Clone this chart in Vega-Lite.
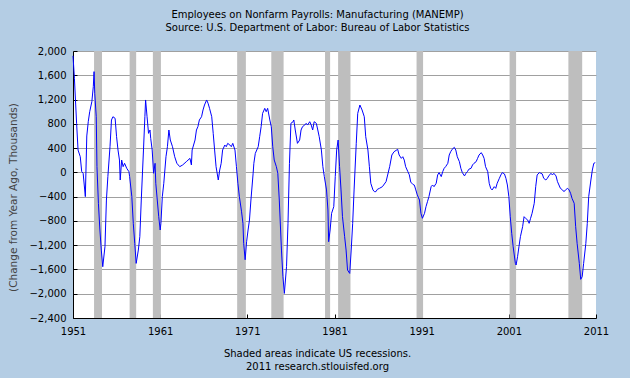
{
"$schema": "https://vega.github.io/schema/vega-lite/v6.json",
"width": 523, "height": 267,
"autosize": {"type": "none"},
"padding": {"left": 73, "top": 51, "right": 34, "bottom": 60},
"background": "#b4cde4",
"config": {"view": {"fill": "white", "stroke": null}, "font": "DejaVu Sans"},
"title": {"text": ["Employees on Nonfarm Payrolls: Manufacturing (MANEMP)", "Source: U.S. Department of Labor: Bureau of Labor Statistics"], "fontSize": 10, "fontWeight": "normal", "font": "DejaVu Sans", "color": "#000", "lineHeight": 13, "dx": -17, "offset": 13, "anchor": "middle", "frame": "group"},
"datasets": {
"recessions": [
{"start":"1953-06-01","end":"1954-05-01"},{"start":"1957-07-01","end":"1958-04-01"},{"start":"1960-03-01","end":"1961-02-01"},{"start":"1969-11-01","end":"1970-11-01"},{"start":"1973-10-01","end":"1975-03-01"},{"start":"1979-12-01","end":"1980-07-01"},{"start":"1981-06-01","end":"1982-11-01"},{"start":"1990-06-01","end":"1991-03-01"},{"start":"2001-02-01","end":"2001-11-01"},{"start":"2007-11-01","end":"2009-06-01"}],
"payroll": [
{"date":"1951-01","change":1920},{"date":"1951-03","change":1550},{"date":"1951-06","change":808},{"date":"1951-08","change":368},{"date":"1951-11","change":258},{"date":"1952-01","change":12},{"date":"1952-03","change":-15},{"date":"1952-06","change":-400},{"date":"1952-08","change":600},{"date":"1952-10","change":835},{"date":"1952-12","change":1000},
{"date":"1953-03","change":1165},{"date":"1953-05","change":1412},{"date":"1953-06","change":1660},{"date":"1953-07","change":1303},{"date":"1953-09","change":917},{"date":"1953-10","change":94},{"date":"1953-12","change":-510},{"date":"1954-02","change":-950},{"date":"1954-04","change":-1280},{"date":"1954-06","change":-1555},{"date":"1954-09","change":-1225},{"date":"1954-11","change":-456},
{"date":"1955-01","change":-70},{"date":"1955-04","change":423},{"date":"1955-06","change":863},{"date":"1955-08","change":917},{"date":"1955-11","change":890},{"date":"1956-01","change":588},{"date":"1956-03","change":368},{"date":"1956-05","change":203},{"date":"1956-06","change":-126},{"date":"1956-08","change":203},{"date":"1956-10","change":94},{"date":"1956-12","change":149},
{"date":"1957-03","change":67},{"date":"1957-06","change":12},{"date":"1957-07","change":-70},{"date":"1957-10","change":-400},{"date":"1957-12","change":-840},{"date":"1958-02","change":-1170},{"date":"1958-04","change":-1500},{"date":"1958-07","change":-1280},{"date":"1958-09","change":-1060},{"date":"1958-11","change":-456},
{"date":"1959-02","change":368},{"date":"1959-04","change":917},{"date":"1959-05","change":1193},{"date":"1959-07","change":917},{"date":"1959-09","change":643},{"date":"1959-11","change":698},{"date":"1959-12","change":560},{"date":"1960-02","change":368},{"date":"1960-04","change":-15},{"date":"1960-06","change":149},{"date":"1960-07","change":-180},{"date":"1960-09","change":-456},{"date":"1960-11","change":-730},
{"date":"1961-01","change":-950},{"date":"1961-02","change":-840},{"date":"1961-04","change":-400},{"date":"1961-06","change":-180},{"date":"1961-09","change":258},{"date":"1961-11","change":423},{"date":"1962-01","change":698},{"date":"1962-03","change":533},{"date":"1962-06","change":423},{"date":"1962-09","change":258},{"date":"1962-12","change":149},
{"date":"1963-04","change":94},{"date":"1963-08","change":122},{"date":"1964-01","change":176},{"date":"1964-06","change":231},{"date":"1964-08","change":122},{"date":"1964-09","change":368},{"date":"1965-01","change":533},{"date":"1965-03","change":698},{"date":"1965-05","change":753},{"date":"1965-07","change":863},{"date":"1965-10","change":917},{"date":"1965-12","change":1028},
{"date":"1966-02","change":1110},{"date":"1966-05","change":1193},{"date":"1966-07","change":1138},{"date":"1966-09","change":1055},{"date":"1966-12","change":917},{"date":"1967-02","change":643},{"date":"1967-04","change":368},{"date":"1967-06","change":94},{"date":"1967-09","change":-126},{"date":"1967-11","change":39},
{"date":"1968-01","change":149},{"date":"1968-03","change":368},{"date":"1968-06","change":450},{"date":"1968-08","change":423},{"date":"1968-10","change":478},{"date":"1969-01","change":450},{"date":"1969-03","change":423},{"date":"1969-05","change":478},{"date":"1969-08","change":368},{"date":"1969-10","change":94},{"date":"1969-12","change":-180},
{"date":"1970-02","change":-400},{"date":"1970-05","change":-640},{"date":"1970-07","change":-840},{"date":"1970-08","change":-1170},{"date":"1970-10","change":-1440},{"date":"1970-12","change":-1143},{"date":"1971-02","change":-950},{"date":"1971-04","change":-785},{"date":"1971-06","change":-456},{"date":"1971-09","change":-15},{"date":"1971-10","change":149},{"date":"1971-12","change":313},
{"date":"1972-04","change":423},{"date":"1972-06","change":588},{"date":"1972-08","change":753},{"date":"1972-10","change":972},{"date":"1973-01","change":1055},{"date":"1973-03","change":1000},{"date":"1973-05","change":1055},{"date":"1973-08","change":863},{"date":"1973-10","change":753},{"date":"1973-12","change":423},
{"date":"1974-02","change":203},{"date":"1974-05","change":94},{"date":"1974-07","change":-15},{"date":"1974-09","change":-456},{"date":"1974-12","change":-1280},{"date":"1975-02","change":-1720},{"date":"1975-04","change":-1995},{"date":"1975-07","change":-1555},{"date":"1975-09","change":-840},{"date":"1975-11","change":149},
{"date":"1976-01","change":808},{"date":"1976-04","change":835},{"date":"1976-05","change":863},{"date":"1976-07","change":698},{"date":"1976-10","change":478},{"date":"1977-01","change":533},{"date":"1977-03","change":698},{"date":"1977-05","change":753},{"date":"1977-08","change":780},{"date":"1977-10","change":808},{"date":"1977-12","change":780},
{"date":"1978-03","change":835},{"date":"1978-05","change":780},{"date":"1978-07","change":698},{"date":"1978-09","change":835},{"date":"1978-12","change":808},{"date":"1979-02","change":698},{"date":"1979-04","change":588},{"date":"1979-07","change":368},{"date":"1979-09","change":94},{"date":"1979-11","change":-70},
{"date":"1980-02","change":-290},{"date":"1980-04","change":-620},{"date":"1980-05","change":-1143},{"date":"1980-07","change":-950},{"date":"1980-09","change":-675},{"date":"1980-12","change":-565},{"date":"1981-02","change":-70},{"date":"1981-04","change":368},{"date":"1981-06","change":533},{"date":"1981-08","change":94},{"date":"1981-10","change":-290},{"date":"1981-12","change":-730},
{"date":"1982-03","change":-1060},{"date":"1982-05","change":-1280},{"date":"1982-07","change":-1610},{"date":"1982-10","change":-1665},{"date":"1982-12","change":-1280},{"date":"1983-02","change":-840},{"date":"1983-04","change":-290},{"date":"1983-07","change":478},{"date":"1983-09","change":972},{"date":"1983-12","change":1110},
{"date":"1984-03","change":1028},{"date":"1984-06","change":917},{"date":"1984-08","change":588},{"date":"1984-11","change":368},{"date":"1985-01","change":94},{"date":"1985-03","change":-180},{"date":"1985-06","change":-290},{"date":"1985-08","change":-318},{"date":"1985-10","change":-318},{"date":"1985-12","change":-280},
{"date":"1986-03","change":-263},{"date":"1986-07","change":-236},{"date":"1986-12","change":-153},{"date":"1987-05","change":94},{"date":"1987-08","change":286},{"date":"1987-11","change":340},{"date":"1988-04","change":380},{"date":"1988-06","change":286},{"date":"1988-09","change":231},{"date":"1988-11","change":258},
{"date":"1989-01","change":203},{"date":"1989-03","change":94},{"date":"1989-06","change":12},{"date":"1989-08","change":-40},{"date":"1989-10","change":-160},{"date":"1990-01","change":-200},{"date":"1990-03","change":-210},{"date":"1990-05","change":-290},{"date":"1990-07","change":-370},{"date":"1990-10","change":-456},{"date":"1990-12","change":-675},
{"date":"1991-02","change":-757},{"date":"1991-05","change":-675},{"date":"1991-07","change":-565},{"date":"1991-09","change":-483},{"date":"1991-11","change":-400},{"date":"1992-02","change":-236},{"date":"1992-04","change":-208},{"date":"1992-06","change":-236},{"date":"1992-09","change":-180},{"date":"1992-11","change":-43},
{"date":"1993-01","change":-4},{"date":"1993-04","change":-70},{"date":"1993-06","change":12},{"date":"1993-08","change":67},{"date":"1993-10","change":94},{"date":"1994-01","change":149},{"date":"1994-03","change":286},{"date":"1994-05","change":340},{"date":"1994-07","change":380},{"date":"1994-10","change":412},{"date":"1994-12","change":368},
{"date":"1995-02","change":258},{"date":"1995-05","change":176},{"date":"1995-07","change":67},{"date":"1995-09","change":-4},{"date":"1995-12","change":-59},{"date":"1996-02","change":-15},{"date":"1996-04","change":12},{"date":"1996-06","change":52},{"date":"1996-09","change":67},{"date":"1996-11","change":122},
{"date":"1997-01","change":149},{"date":"1997-04","change":176},{"date":"1997-06","change":231},{"date":"1997-08","change":286},{"date":"1997-11","change":325},{"date":"1998-01","change":286},{"date":"1998-03","change":231},{"date":"1998-05","change":94},{"date":"1998-08","change":12},{"date":"1998-10","change":-180},{"date":"1998-12","change":-263},
{"date":"1999-02","change":-290},{"date":"1999-05","change":-236},{"date":"1999-07","change":-263},{"date":"1999-09","change":-180},{"date":"1999-12","change":-98},{"date":"2000-02","change":-43},{"date":"2000-04","change":-4},{"date":"2000-07","change":-26},{"date":"2000-09","change":-98},{"date":"2000-11","change":-208},
{"date":"2001-01","change":-400},{"date":"2001-03","change":-730},{"date":"2001-05","change":-1005},{"date":"2001-07","change":-1225},{"date":"2001-10","change":-1500},{"date":"2001-11","change":-1527},{"date":"2002-01","change":-1390},{"date":"2002-03","change":-1225},{"date":"2002-05","change":-1060},{"date":"2002-08","change":-895},{"date":"2002-10","change":-730},{"date":"2002-12","change":-757},
{"date":"2003-03","change":-785},{"date":"2003-05","change":-840},{"date":"2003-07","change":-757},{"date":"2003-09","change":-675},{"date":"2003-12","change":-510},{"date":"2004-02","change":-236},{"date":"2004-04","change":-43},{"date":"2004-07","change":-4},{"date":"2004-09","change":-15},{"date":"2004-11","change":-26},
{"date":"2005-01","change":-98},{"date":"2005-04","change":-126},{"date":"2005-06","change":-98},{"date":"2005-08","change":-59},{"date":"2005-11","change":-15},{"date":"2006-01","change":-43},{"date":"2006-03","change":-15},{"date":"2006-06","change":-59},{"date":"2006-08","change":-153},{"date":"2006-10","change":-208},{"date":"2006-12","change":-263},
{"date":"2007-03","change":-290},{"date":"2007-05","change":-318},{"date":"2007-07","change":-290},{"date":"2007-10","change":-263},{"date":"2007-12","change":-290},{"date":"2008-02","change":-345},{"date":"2008-04","change":-428},{"date":"2008-07","change":-510},{"date":"2008-09","change":-895},{"date":"2008-11","change":-1170},
{"date":"2009-02","change":-1500},{"date":"2009-04","change":-1763},{"date":"2009-06","change":-1720},{"date":"2009-08","change":-1500},{"date":"2009-11","change":-1170},{"date":"2010-01","change":-840},{"date":"2010-03","change":-400},{"date":"2010-06","change":-126},{"date":"2010-08","change":39},{"date":"2010-10","change":149},{"date":"2010-12","change":160}
]},
"layer": [
{"data": {"name": "recessions"},
 "mark": {"type": "rect", "color": "#bebebe"},
 "encoding": {
  "x": {"field": "start", "type": "temporal",
   "scale": {"type": "utc", "domain": [{"year": 1951, "month": 1, "date": 1, "utc": true}, {"year": 2011, "month": 1, "date": 1, "utc": true}]},
   "axis": {"values": [{"year": 1951, "month": 1, "date": 1, "utc": true},{"year": 1961, "month": 1, "date": 1, "utc": true},{"year": 1971, "month": 1, "date": 1, "utc": true},{"year": 1981, "month": 1, "date": 1, "utc": true},{"year": 1991, "month": 1, "date": 1, "utc": true},{"year": 2001, "month": 1, "date": 1, "utc": true},{"year": 2011, "month": 1, "date": 1, "utc": true}],
    "format": "%Y", "labelFontSize": 10, "labelColor": "#000", "labelPadding": 12, "labelFlush": false, "tickSize": -4, "tickColor": "#000", "domainColor": "#000", "grid": false,
    "title": ["Shaded areas indicate US recessions.", "2011 research.stlouisfed.org"], "titleFontSize": 10, "titleFontWeight": "normal", "titleColor": "#000", "titleX": 244, "titleY": 30, "titleBaseline": "top", "titleLineHeight": 13, "titleAlign": "center"}},
  "x2": {"field": "end"}
 }},
{"data": {"name": "payroll"},
 "mark": {"type": "line", "color": "#0000ff", "strokeWidth": 1},
 "encoding": {
  "x": {"field": "date", "type": "temporal",
   "scale": {"type": "utc", "domain": [{"year": 1951, "month": 1, "date": 1, "utc": true}, {"year": 2011, "month": 1, "date": 1, "utc": true}]},
   "axis": {"values": [{"year": 1951, "month": 1, "date": 1, "utc": true},{"year": 1961, "month": 1, "date": 1, "utc": true},{"year": 1971, "month": 1, "date": 1, "utc": true},{"year": 1981, "month": 1, "date": 1, "utc": true},{"year": 1991, "month": 1, "date": 1, "utc": true},{"year": 2001, "month": 1, "date": 1, "utc": true},{"year": 2011, "month": 1, "date": 1, "utc": true}],
    "format": "%Y", "labelFontSize": 10, "labelColor": "#000", "labelPadding": 12, "labelFlush": false, "tickSize": -4, "tickColor": "#000", "domainColor": "#000", "grid": false,
    "title": ["Shaded areas indicate US recessions.", "2011 research.stlouisfed.org"], "titleFontSize": 10, "titleFontWeight": "normal", "titleColor": "#000", "titleX": 244, "titleY": 30, "titleBaseline": "top", "titleLineHeight": 13, "titleAlign": "center"}},
  "y": {"field": "change", "type": "quantitative",
   "scale": {"domain": [-2400, 2000], "nice": false, "zero": false},
   "axis": {"values": [-2400,-2000,-1600,-1200,-800,-400,0,400,800,1200,1600,2000], "format": ",d", "labelFontSize": 10, "labelColor": "#000", "labelPadding": 11, "tickSize": -4, "tickColor": "#000", "domainColor": "#000", "grid": true, "gridColor": "#a0a0a0", "gridOpacity": 1,
    "title": "(Change from Year Ago, Thousands)", "titleFontSize": 10.5, "titleFontWeight": "normal", "titleColor": "#444", "titleX": -60, "titleY": 146, "titleAngle": -90, "titleAlign": "center", "titleBaseline": "middle"}}
 }}
]
}
